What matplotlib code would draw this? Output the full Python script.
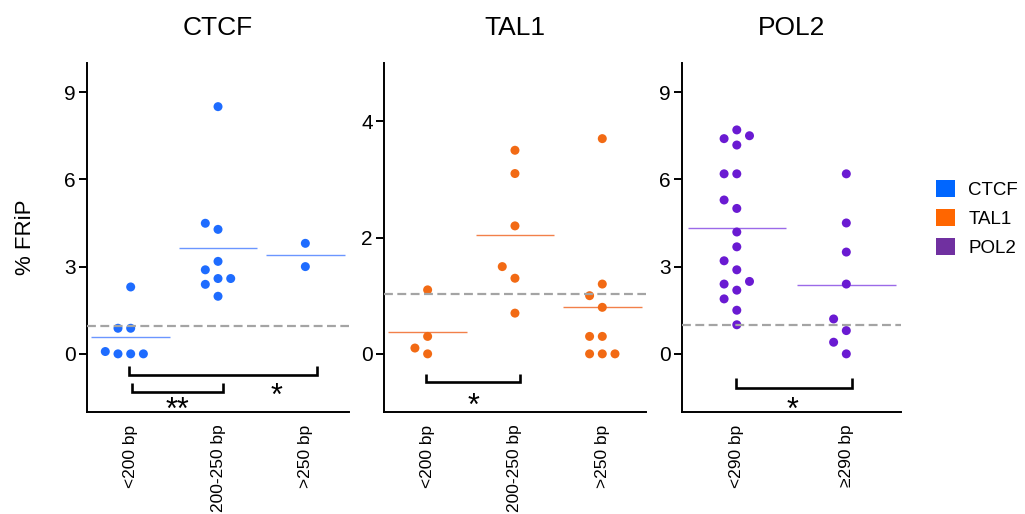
import numpy as np
import matplotlib
matplotlib.use("Agg")
import matplotlib.pyplot as plt
from matplotlib.patches import Patch

plt.rcParams['font.family'] = ['Liberation Sans', 'DejaVu Sans']

# --- data (% FRiP per sample) ---
ctcf_groups = ['<200 bp', '200-250 bp', '>250 bp']
ctcf_lt200 = [0.0, 0.0, 0.0, 0.08, 0.88, 0.88, 2.3]
ctcf_200_250 = [1.98, 2.39, 2.59, 2.59, 2.89, 3.18, 4.28, 4.49, 8.5]
ctcf_gt250 = [3.0, 3.8]

tal1_groups = ['<200 bp', '200-250 bp', '>250 bp']
tal1_lt200 = [0.0, 0.1, 0.3, 1.1]
tal1_200_250 = [0.7, 1.3, 1.5, 2.2, 3.1, 3.5]
tal1_gt250 = [0.0, 0.0, 0.0, 0.3, 0.3, 0.8, 1.0, 1.2, 3.7]

pol2_groups = ['<290 bp', '\u2265290 bp']
pol2_lt290 = [1.0, 1.5, 1.89, 2.19, 2.4, 2.49, 2.89, 3.2, 3.68, 4.19, 5.0, 5.29,
              6.19, 6.19, 7.18, 7.4, 7.5, 7.7]
pol2_ge290 = [0.0, 0.4, 0.8, 1.2, 2.4, 3.5, 4.5, 6.19]

# dashed reference level per factor
thresholds = [0.95, 1.03, 1.0]

factors = ['CTCF', 'TAL1', 'POL2']
dot_colors = ['#1e6cff', '#f26a14', '#6a1ad2']
mean_colors = ['#6b96ff', '#f2804a', '#9b6ae8']
legend_colors = ['#0066ff', '#ff6600', '#7030a0']

panels = [
    (ctcf_groups, [ctcf_lt200, ctcf_200_250, ctcf_gt250]),
    (tal1_groups, [tal1_lt200, tal1_200_250, tal1_gt250]),
    (pol2_groups, [pol2_lt290, pol2_ge290]),
]

# significance brackets: (x1, x2, y_top, y_bottom, label, label_x, label_y)
brackets = [
    [(0.985, 3.13, -0.41, -0.73, '*', 2.67, -1.15),
     (1.015, 2.06, -0.985, -1.31, '**', 1.53, -1.65)],
    [(0.985, 2.06, -0.34, -0.49, '*', 1.53, -0.75)],
    [(0.995, 2.05, -0.84, -1.16, '*', 1.51, -1.64)],
]

ylims = [(-2, 10), (-1, 5), (-2, 10)]
yticks = [[0, 3, 6, 9], [0, 2, 4], [0, 3, 6, 9]]
axes_pos = [
    [0.0849, 0.1984, 0.2556, 0.679],
    [0.3746, 0.1984, 0.2556, 0.679],
    [0.6654, 0.1984, 0.2137, 0.679],
]

DPI = 100
STEP_PX = 12.7  # horizontal step between neighbouring dots
STAR_FS = 22


def swarm_offsets(vals, ax):
    # simple grid beeswarm in pixel space
    p0 = ax.transData.transform((0, 0))
    p1 = ax.transData.transform((1, 1))
    px_x = p1[0] - p0[0]
    px_y = p1[1] - p0[1]
    order = np.argsort(vals, kind='stable')
    placed = []
    offs = np.zeros(len(vals))
    cands = [0, -1, 1, -2, 2, -3, 3]
    for i in order:
        y = vals[i] * px_y
        for c in cands:
            ok = all(not (s == c and abs(y - py) < STEP_PX) for s, py in placed)
            if ok:
                placed.append((c, y))
                offs[i] = c * STEP_PX / px_x
                break
    return offs


fig = plt.figure(figsize=(10.25, 5.14), dpi=DPI)

for k, (groups, series) in enumerate(panels):
    ax = fig.add_axes(axes_pos[k])
    ax.set_xlim(0.5, len(groups) + 0.5)
    ax.set_ylim(*ylims[k])

    ax.axhline(thresholds[k], color='#a4a4a4', lw=1.6, ls=(0, (4, 2)), zorder=4)

    for g, vals in enumerate(series):
        xpos = g + 1
        vals = np.asarray(vals, dtype=float)
        offs = swarm_offsets(vals, ax)
        ax.scatter(xpos + offs, vals, s=42, color=dot_colors[k], edgecolors='none',
                   zorder=3, clip_on=False)
        ax.hlines(vals.mean(), xpos - 0.45, xpos + 0.45, color=mean_colors[k],
                  lw=1.0, zorder=2)

    for (x1, x2, yt, yb, lab, lx, ly) in brackets[k]:
        ax.plot([x1, x1, x2, x2], [yt, yb, yb, yt], color='black', lw=1.9,
                solid_joinstyle='miter', solid_capstyle='butt', zorder=3)
        # asterisk glyph sits high in the em box: put its centre on (lx, ly)
        ax.annotate(lab, (lx, ly), xytext=(0, -0.57 * STAR_FS), textcoords='offset points',
                    ha='center', va='baseline', fontsize=STAR_FS)

    ax.set_title(factors[k], fontsize=19, pad=20)
    ax.set_xticks(range(1, len(groups) + 1))
    ax.set_xticklabels(groups, rotation=90, fontsize=12.5)
    ax.set_yticks(yticks[k])
    ax.tick_params(axis='y', labelsize=15, length=6, width=1.4, pad=2)
    ax.tick_params(axis='x', length=0, pad=9)
    for s in ['top', 'right']:
        ax.spines[s].set_visible(False)
    for s in ['left', 'bottom']:
        ax.spines[s].set_linewidth(1.4)
    if k == 0:
        ax.set_ylabel('% FRiP', fontsize=16, labelpad=20)

handles = [Patch(facecolor=c, edgecolor='none', label=f) for c, f in zip(legend_colors, factors)]
fig.legend(handles=handles, loc='center left', bbox_to_anchor=(0.897, 0.575),
           frameon=False, fontsize=13.5, handlelength=1.0, handleheight=1.0,
           handletextpad=0.7, labelspacing=0.55)

fig.savefig('out.png', dpi=DPI, facecolor='white')
